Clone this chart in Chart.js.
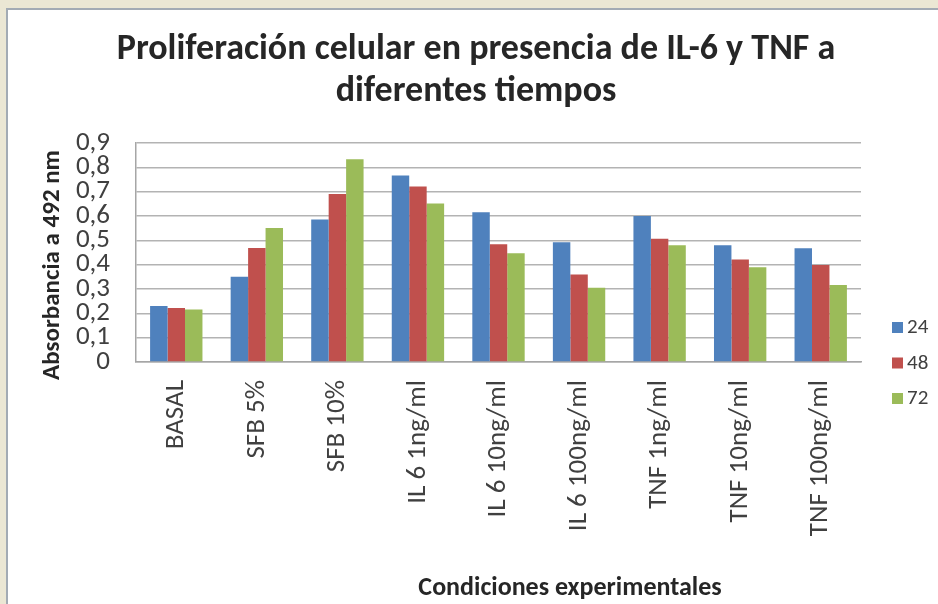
<!DOCTYPE html>
<html>
<head>
<meta charset="utf-8">
<script src="https://cdn.jsdelivr.net/npm/chart.js@4.4.1/dist/chart.umd.min.js"></script>
<style>
    html, body { margin: 0; padding: 0; }
    body { width: 938px; height: 604px; background: #ebe7d4; position: relative; overflow: hidden; }
    .panel { position: absolute; left: 6px; top: 8px; right: 0; bottom: 0; background: #fff; border-left: 2px solid #a3abb4; border-top: 2px solid #a3abb4; }
    #chart { position: absolute; left: 0; top: 0; }
</style>
</head>
<body>
<div class="panel"></div>
<canvas id="chart" width="938" height="604"></canvas>
<script>
const categories = ['BASAL', 'SFB 5%', 'SFB 10%', 'IL 6 1ng/ml', 'IL 6 10ng/ml', 'IL 6 100ng/ml', 'TNF 1ng/ml', 'TNF 10ng/ml', 'TNF 100ng/ml'];
const seriesNames = ['24', '48', '72'];
const values24 = [0.23, 0.35, 0.586, 0.766, 0.615, 0.492, 0.60, 0.48, 0.467];
const values48 = [0.222, 0.468, 0.69, 0.721, 0.484, 0.36, 0.507, 0.421, 0.399];
const values72 = [0.216, 0.551, 0.833, 0.651, 0.447, 0.305, 0.48, 0.389, 0.316];
const colors = ['#4f81bd', '#c0504d', '#9bbb59'];

const titleLines = ['Proliferación celular en presencia de IL-6 y TNF a', 'diferentes tiempos'];
const yTitle = 'Absorbancia a 492 nm';
const xTitle = 'Condiciones experimentales';

const FONT = 'Carlito, Lato, "Open Sans", sans-serif';
const TEXT = '#404040';

// titles and legend drawn by hand so they sit where Excel put them
const decorations = {
    id: 'decorations',
    afterDraw(chart) {
        const c = chart.ctx;
        c.save();
        c.fillStyle = '#262626';
        c.textAlign = 'center';
        c.textBaseline = 'middle';
        c.font = 'bold 36px ' + FONT;
        c.fillText(titleLines[0], 476, 50);
        c.fillText(titleLines[1], 476, 92);

        c.font = 'bold 26px ' + FONT;
        c.fillText(xTitle, 570, 588);

        c.font = 'bold 25px ' + FONT;
        c.translate(53, 265);
        c.rotate(-Math.PI / 2);
        c.fillText(yTitle, 0, 0);
        c.restore();

        c.save();
        c.font = '21px ' + FONT;
        c.textBaseline = 'middle';
        chart.data.datasets.forEach((ds, i) => {
            const y = 327 + i * 35.5;
            c.fillStyle = ds.backgroundColor;
            c.fillRect(892, y - 5, 11, 11);
            c.fillStyle = TEXT;
            c.fillText(ds.label, 907, y + 1);
        });
        c.restore();
    }
};

const ctx = document.getElementById('chart').getContext('2d');
new Chart(ctx, {
    type: 'bar',
    data: {
        labels: categories,
        datasets: [values24, values48, values72].map((vals, i) => ({
            label: seriesNames[i],
            data: vals,
            backgroundColor: colors[i],
            borderWidth: 0,
            categoryPercentage: 0.65,
            barPercentage: 1.0
        }))
    },
    options: {
        responsive: false,
        animation: false,
        layout: { padding: { top: 143, right: 77, left: 60, bottom: 0 } },
        plugins: {
            legend: { display: false },
            title: { display: false },
            tooltip: { enabled: false }
        },
        scales: {
            x: {
                afterFit: s => { s.height = 242; },
                grid: { display: false, drawTicks: false },
                border: { display: true, color: '#a6a6a6', width: 1.5 },
                ticks: {
                    color: TEXT,
                    font: { family: FONT, size: 27 },
                    padding: 18,
                    minRotation: 90,
                    maxRotation: 90,
                    autoSkip: false
                }
            },
            y: {
                min: 0,
                max: 0.9,
                afterFit: s => { s.width = 76; },
                grid: { color: '#b3b3b3', lineWidth: 1.5, drawTicks: false },
                border: { display: true, color: '#a6a6a6', width: 1.5 },
                ticks: {
                    stepSize: 0.1,
                    autoSkip: false,
                    color: TEXT,
                    padding: 26,
                    font: { family: FONT, size: 27 },
                    callback: v => v === 0 ? '0' : v.toFixed(1).replace('.', ',')
                }
            }
        }
    },
    plugins: [decorations]
});
</script>
</body>
</html>
